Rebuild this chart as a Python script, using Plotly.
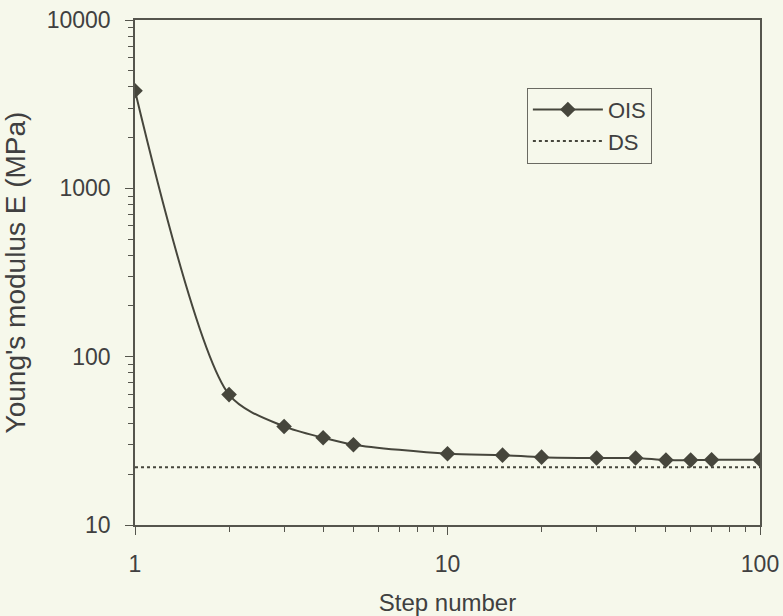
import plotly.graph_objects as go

# Step number vs. Young's modulus
steps = [1, 2, 3, 4, 5, 10, 15, 20, 30, 40, 50, 60, 70, 100]
ois_modulus = [3800, 59.5, 38.5, 33, 30, 26.5, 26.0, 25.3, 25.0, 25.0, 24.3, 24.3, 24.4, 24.4]
ds_steps = [1, 100]
ds_modulus = [22, 22]

y_ticks = [10, 100, 1000, 10000]
x_ticks = [1, 10, 100]

ink = "#46463c"
axis_col = "#55554d"
paper = "#f6f8eb"
text_col = "#404040"
font_family = "Liberation Sans, Arial, sans-serif"

fig = go.Figure()
fig.add_trace(go.Scatter(
    x=steps, y=ois_modulus, name="OIS", mode="lines+markers",
    line=dict(color=ink, width=2, shape="spline", smoothing=0.8),
    marker=dict(symbol="diamond", size=12, color=ink),
))
fig.add_trace(go.Scatter(
    x=ds_steps, y=ds_modulus, name="DS", mode="lines",
    line=dict(color=ink, width=2, dash="dot"),
))

fig.update_layout(
    width=783, height=616,
    margin=dict(l=135, r=23, t=20, b=91, autoexpand=False),
    paper_bgcolor=paper, plot_bgcolor=paper,
    font=dict(family=font_family, size=23, color=text_col),
    showlegend=True,
    legend=dict(
        x=0.627, y=0.866, xanchor="left", yanchor="top",
        bgcolor=paper, bordercolor="#6a6a62", borderwidth=1,
        font=dict(size=22), tracegroupgap=4, itemwidth=70,
    ),
)

fig.update_xaxes(
    type="log", range=[0, 2], tickvals=x_ticks, ticktext=[str(v) for v in x_ticks],
    automargin=False,
    showgrid=False, zeroline=False,
    showline=True, linecolor=axis_col, linewidth=1.5, mirror=True,
    ticks="outside", ticklen=8, tickwidth=1.2, tickcolor=axis_col,
    minor=dict(ticks="outside", ticklen=5, tickwidth=1.2, tickcolor=axis_col, dtick="D1", showgrid=False),
    title=dict(text="Step number", font=dict(size=24), standoff=18),
    ticklabelstandoff=10,
)
fig.update_yaxes(
    type="log", range=[1, 4], tickvals=y_ticks, ticktext=[str(v) for v in y_ticks],
    automargin=False,
    showgrid=False, zeroline=False,
    showline=True, linecolor=axis_col, linewidth=1.5, mirror=True,
    ticks="outside", ticklen=8, tickwidth=1.2, tickcolor=axis_col,
    minor=dict(ticks="outside", ticklen=5, tickwidth=1.2, tickcolor=axis_col, dtick="D1", showgrid=False),
    title=dict(text="Young's modulus E (MPa)", font=dict(size=28), standoff=14),
    ticklabelstandoff=10,
)

fig.write_html("out.html")
